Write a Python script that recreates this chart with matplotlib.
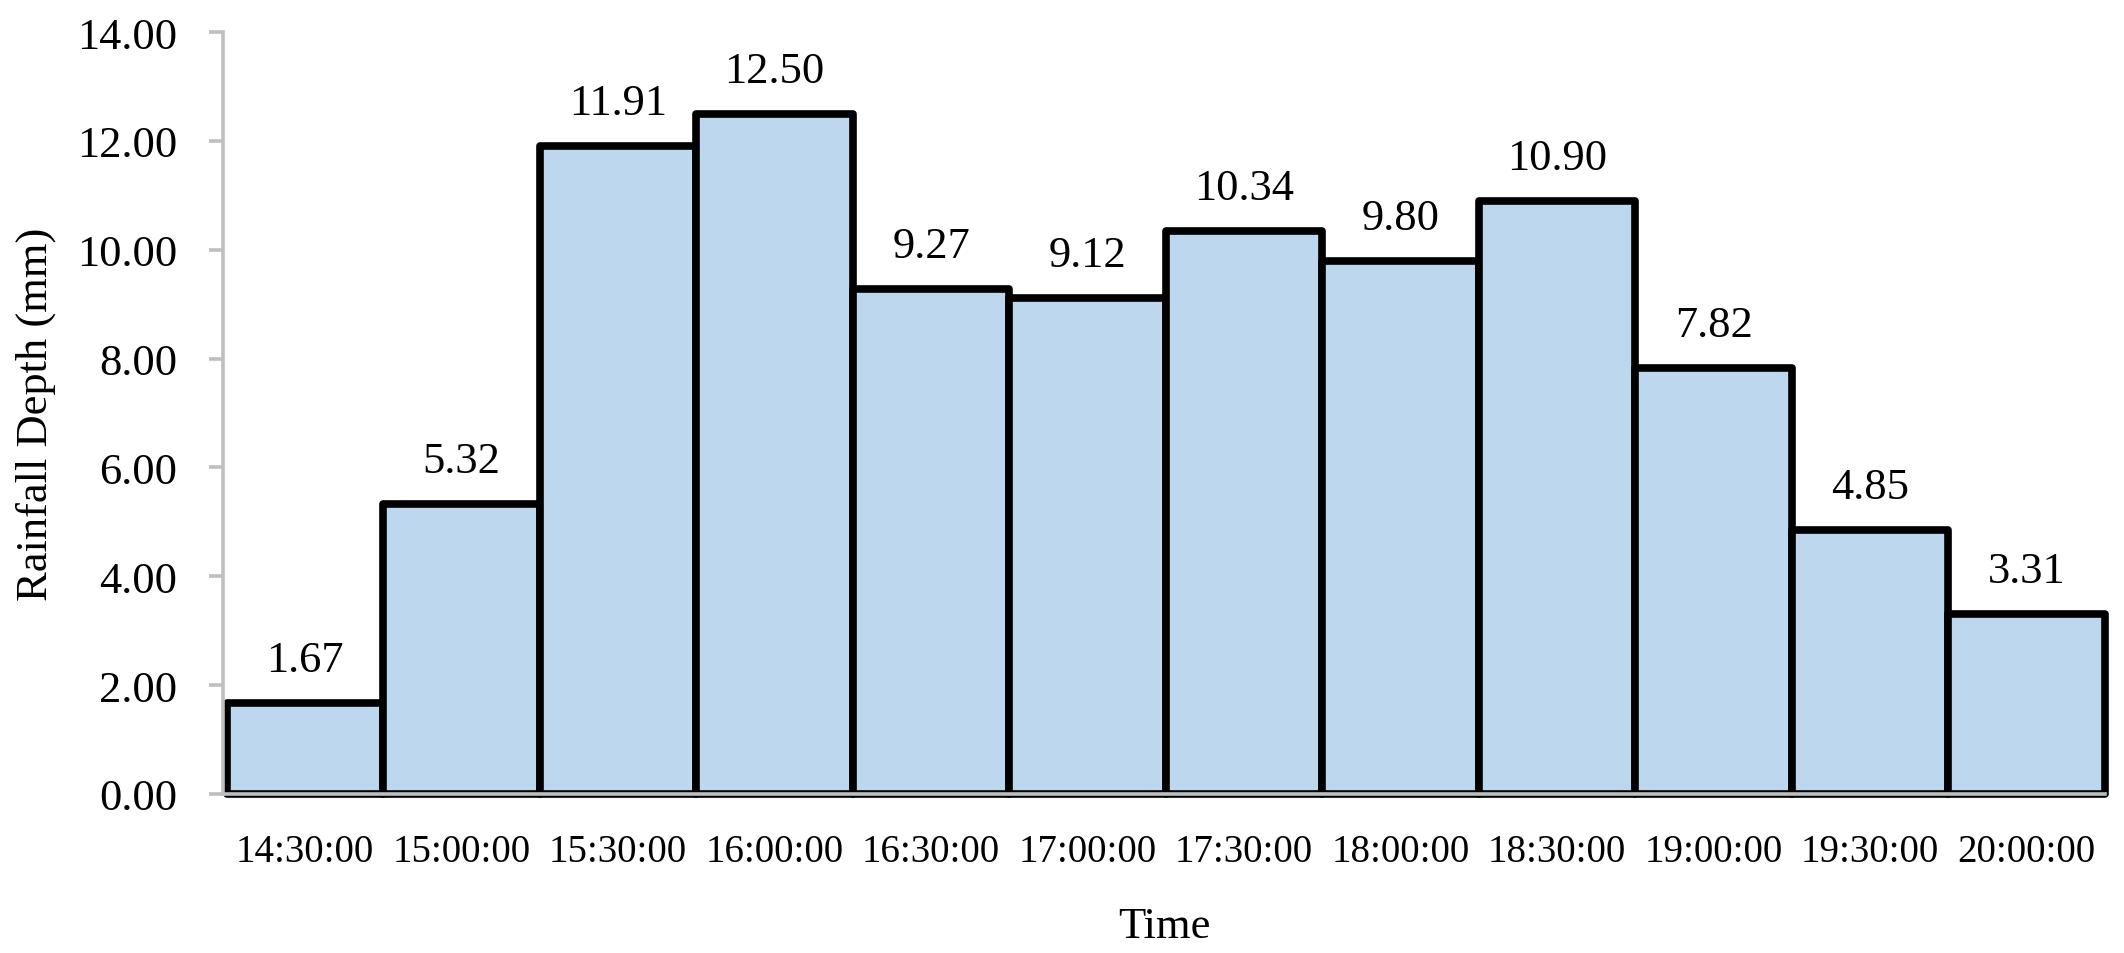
import matplotlib.pyplot as plt
from matplotlib.ticker import FormatStrFormatter

# rainfall per half hour
times = ["14:30:00", "15:00:00", "15:30:00", "16:00:00", "16:30:00", "17:00:00",
         "17:30:00", "18:00:00", "18:30:00", "19:00:00", "19:30:00", "20:00:00"]
depths = [1.67, 5.32, 11.91, 12.50, 9.27, 9.12, 10.34, 9.80, 10.90, 7.82, 4.85, 3.31]
yticks = [0, 2, 4, 6, 8, 10, 12, 14]

plt.rcParams["font.family"] = ["Liberation Serif", "DejaVu Serif"]

fig = plt.figure(figsize=(21.24, 9.54), dpi=100)
ax = fig.add_axes([0.105, 0.1667, 0.886, 0.7987])

x = list(range(len(times)))
bars = ax.bar(x, depths, width=1.0, color="#BDD7EE", edgecolor="black",
              linewidth=5.5, zorder=2)
for b in bars:
    b.set_clip_on(False)
    b.set_joinstyle("round")

for xi, v in zip(x, depths):
    ax.annotate(f"{v:.2f}", (xi, v), xytext=(0, 23), textcoords="offset points",
                ha="center", va="baseline", fontsize=32)

ax.set_xlim(-0.525, len(times) - 0.5)
ax.set_ylim(0, 14)
ax.set_yticks(yticks)
ax.yaxis.set_major_formatter(FormatStrFormatter("%.2f"))
ax.set_xticks(x)
ax.set_xticklabels(times)

grey = "#BFBFBF"
for s in ["top", "right"]:
    ax.spines[s].set_visible(False)
for s in ["left", "bottom"]:
    ax.spines[s].set_color(grey)
    ax.spines[s].set_linewidth(2.6)
    ax.spines[s].set_zorder(3)

ax.tick_params(axis="y", length=10, width=2.6, color=grey, labelsize=32, pad=23)
ax.tick_params(axis="x", length=0, labelsize=28, pad=28)

ax.set_ylabel("Rainfall Depth (mm)", fontsize=32, labelpad=15)
ax.set_xlabel("Time", fontsize=32, labelpad=26)

fig.savefig("out.png", dpi=100)
